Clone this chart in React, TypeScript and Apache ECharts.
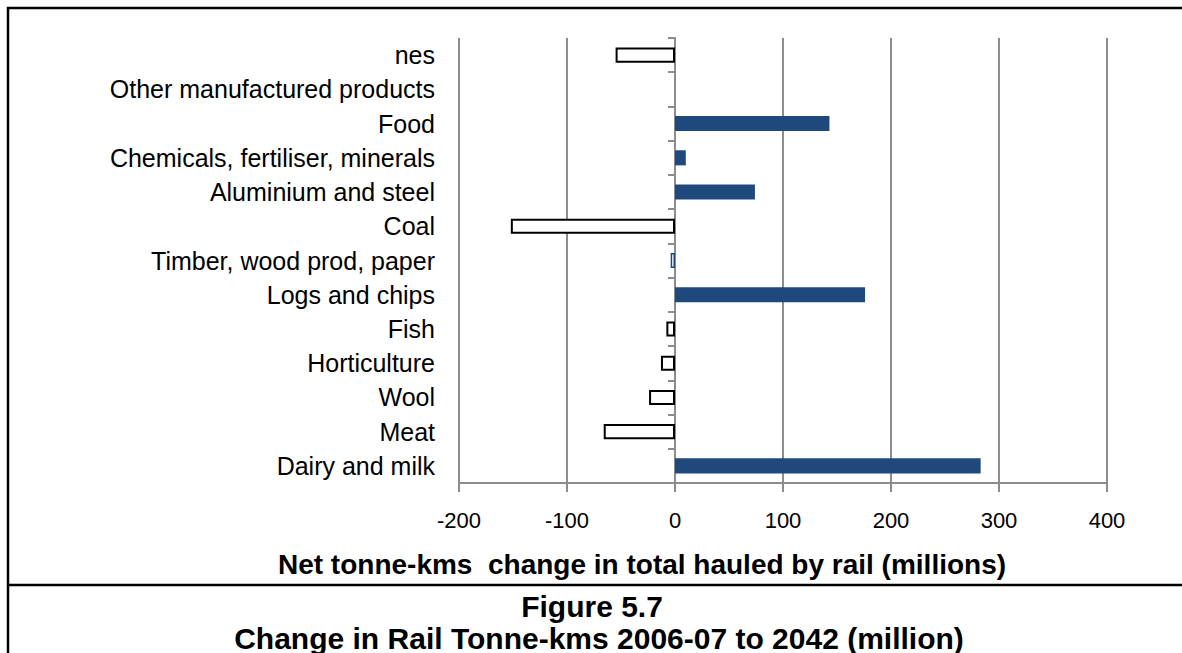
import React, { useEffect, useRef } from "react";
import * as echarts from "echarts";

const categories = [
  "Dairy and milk",
  "Meat",
  "Wool",
  "Horticulture",
  "Fish",
  "Logs and chips",
  "Timber, wood prod, paper",
  "Coal",
  "Aluminium and steel",
  "Chemicals, fertiliser, minerals",
  "Food",
  "Other manufactured products",
  "nes",
];
const values = [283, -66, -24, -13, -8, 176, -4, -152, 74, 10, 143, 0, -55];
const xTicks = { min: -200, max: 400, interval: 100 };
const axisTitle = "Net tonne-kms  change in total hauled by rail (millions)";
const figLabel = "Figure 5.7";
const figTitle = "Change in Rail Tonne-kms 2006-07 to 2042 (million)";

const BLUE = "#1F497D";
const GRAY = "#8C8C8C";
const FONT = "Liberation Sans";

export default function App() {
  const ref = useRef<HTMLDivElement>(null);
  useEffect(() => {
    const chart = echarts.init(ref.current!, null, { renderer: "svg" });
    const data = values.map((v, i) => {
      const neg = v < 0;
      const isTimber = categories[i].startsWith("Timber");
      return {
        value: v,
        itemStyle: neg
          ? { color: "#ffffff", borderColor: isTimber ? BLUE : "#000000", borderWidth: isTimber ? 1.5 : 2 }
          : { color: BLUE },
      };
    });
    chart.setOption({
      animation: false,
      backgroundColor: "#ffffff",
      grid: { left: 459, right: 75, top: 38, bottom: 170, containLabel: false },
      xAxis: {
        type: "value",
        min: xTicks.min,
        max: xTicks.max,
        interval: xTicks.interval,
        axisLine: { show: true, onZero: false, lineStyle: { color: GRAY, width: 2 } },
        axisTick: { show: true, length: 9, lineStyle: { color: GRAY, width: 2 } },
        splitLine: { show: true, lineStyle: { color: GRAY, width: 2 } },
        axisLabel: { color: "#000", fontFamily: FONT, fontSize: 22, margin: 26 },
      },
      yAxis: [
        {
          type: "category",
          data: categories,
          position: "left",
          axisLine: { show: false, onZero: false },
          axisTick: { show: false },
          axisLabel: { color: "#000", fontFamily: FONT, fontSize: 25, margin: 24 },
        },
        {
          type: "category",
          data: categories,
          position: "left",
          axisLine: { show: true, onZero: true, lineStyle: { color: GRAY, width: 2 } },
          axisTick: { show: true, length: 7, lineStyle: { color: GRAY, width: 2 } },
          axisLabel: { show: false },
        },
      ],
      series: [
        {
          type: "bar",
          yAxisIndex: 0,
          data,
          barWidth: "44%",
        },
      ],
      graphic: [
        { type: "line", shape: { x1: 7, y1: 8, x2: 1182, y2: 8 }, style: { stroke: "#000", lineWidth: 2.5 } },
        { type: "line", shape: { x1: 8, y1: 7, x2: 8, y2: 653 }, style: { stroke: "#000", lineWidth: 2.5 } },
        { type: "line", shape: { x1: 7, y1: 585, x2: 1182, y2: 585 }, style: { stroke: "#000", lineWidth: 2.5 } },
        {
          type: "text",
          x: 642,
          y: 564,
          style: { text: axisTitle, fill: "#000", font: `bold 28px "${FONT}"`, textAlign: "center", textVerticalAlign: "middle" },
        },
        {
          type: "text",
          x: 592,
          y: 606,
          style: { text: figLabel, fill: "#000", font: `bold 30px "${FONT}"`, textAlign: "center", textVerticalAlign: "middle" },
        },
        {
          type: "text",
          x: 599,
          y: 638,
          style: { text: figTitle, fill: "#000", font: `bold 30px "${FONT}"`, textAlign: "center", textVerticalAlign: "middle" },
        },
      ],
    });
    return () => chart.dispose();
  }, []);
  return (
    <div
      ref={ref}
      style={{ position: "fixed", left: 0, top: 0, width: 1182, height: 653 }}
    />
  );
}
